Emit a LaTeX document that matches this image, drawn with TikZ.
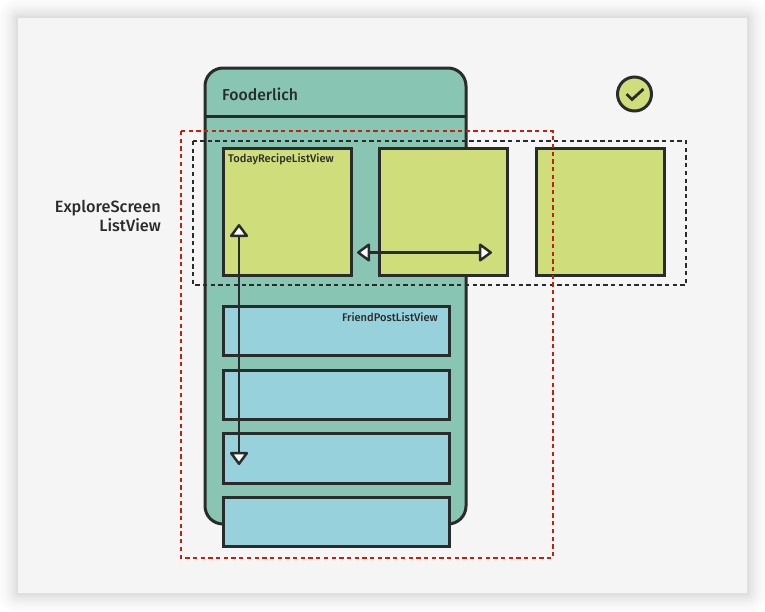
\documentclass[tikz,border=0pt]{standalone}
\usepackage{fontspec}
\setmainfont{Fira Sans Medium}
\usetikzlibrary{arrows.meta,calc}
\definecolor{ink}{HTML}{2A2C2C}
\definecolor{panel}{HTML}{F5F5F5}
\definecolor{phonec}{HTML}{88C5B3}
\definecolor{tilec}{HTML}{CFDD7A}
\definecolor{rowc}{HTML}{97D1DC}
\definecolor{redd}{HTML}{C4200F}
\tikzset{
  box/.style={draw=ink,line width=3pt,inner sep=0pt,outer sep=0pt,anchor=north west},
  tile/.style={box,fill=tilec,minimum width=128.5pt,minimum height=127.5pt},
  row/.style={box,fill=rowc,minimum width=226.5pt,minimum height=49.5pt},
  guide/.style={draw=ink,line width=2.8pt,dash pattern=on 4.3pt off 3.4pt},
  guidered/.style={draw=redd,line width=2.8pt,dash pattern=on 4.3pt off 3.4pt},
  both/.style={draw=ink,line width=2.7pt,line join=round,
    {Triangle[open,fill=white,length=14pt,width=20pt,line width=2.5pt,round]}-{Triangle[open,fill=white,length=14pt,width=20pt,line width=2.5pt,round]}},
  lab/.style={text=ink,inner sep=0pt,font=\fontsize{11.1pt}{12pt}\selectfont},
  title/.style={text=ink,inner sep=0pt,font=\fontsize{16.3pt}{19pt}\selectfont},
  apptitle/.style={text=ink,inner sep=0pt,font=\fontsize{15.8pt}{19pt}\selectfont},
}
\begin{document}
\begin{tikzpicture}[x=1pt,y=-1pt]
\useasboundingbox (0,0) rectangle (765,611);
\fill[white] (0,0) rectangle (765,611);
% soft shadow
\foreach \d/\o in {20/.006,18/.007,16/.008,14/.009,12/.011,10/.013,8/.015,6/.017,4/.019,2/.02}{
  \fill[black,opacity=\o,rounded corners=\d pt] ($(18,18)-(\d,\d)$) rectangle ($(747,593)+(\d,\d)$);
}
\fill[panel] (18,18) rectangle (747,593);
% phone
\draw[ink,line width=3pt,fill=phonec,rounded corners=18pt] (205,68) rectangle (466,524);
\coordinate (hl) at (205,116); \coordinate (hr) at (466,116);
\draw[ink,line width=3pt] (hl) -- (hr);
\node[apptitle,anchor=base west] (app) at (222,100) {Fooderlich};
% tiles
\node[tile,minimum width=128pt] (t1) at (223,148) {};
\node[tile] (t2) at (379,148) {};
\node[tile] (t3) at (536,148) {};
% rows
\node[row] (r1) at (223,306) {};
\node[row] (r2) at (223,370) {};
\node[row,minimum height=50.5pt] (r3) at (223,433) {};
\node[row] (r4) at (223,497) {};
\node[lab,anchor=base west] (l1) at (228,162.5) {TodayRecipeListView};
\node[lab,anchor=base east] (l2) at (438,321) {FriendPostListView};
% dashed frames
\draw[guide] (193,141) rectangle (686,285);
\draw[guidered] (181,131) rectangle (553,558);
% arrows
\coordinate (vt) at (239,224); \coordinate (vb) at (239,465);
\coordinate (hla) at (357,252.5); \coordinate (hra) at (492,252.5);
\draw[both] (vt) -- (vb);
\draw[both] (hla) -- (hra);
% label
\node[title,anchor=base east,align=right] (es) at (161,212) {ExploreScreen};
\node[title,anchor=base east,align=right] (lv) at (161,231) {ListView};
% check
\node[draw=ink,line width=3pt,fill=tilec,circle,minimum size=34pt,inner sep=0pt] (ok) at (634.5,94) {};
\draw[ink,line width=2.8pt] ($(ok)+(-8,0)$) -- ($(ok)+(-2.5,5.5)$) -- ($(ok)+(9,-5)$);
\end{tikzpicture}
\end{document}
